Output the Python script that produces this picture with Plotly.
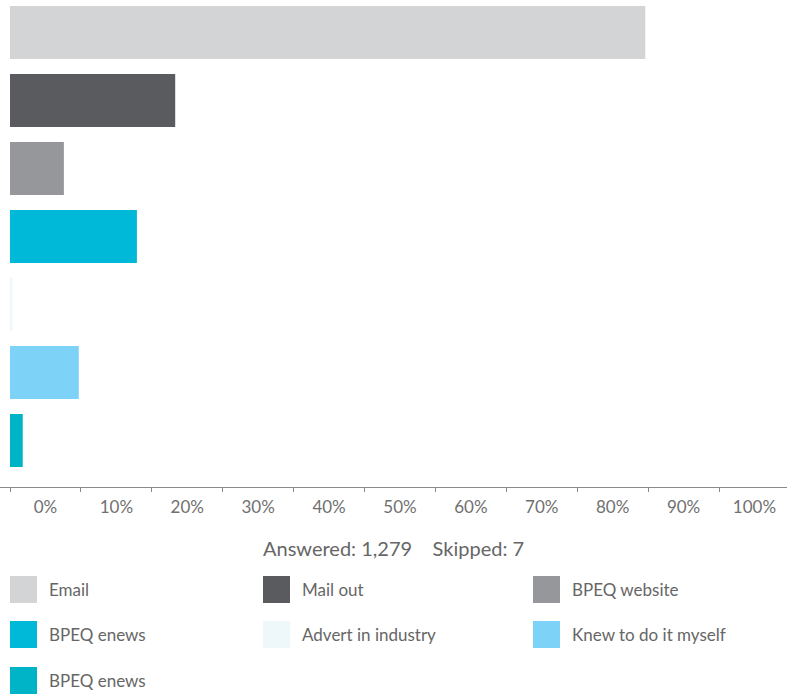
import plotly.graph_objects as go

categories = ["Email", "Mail out", "BPEQ website", "BPEQ enews",
              "Advert in industry", "Knew to do it myself", "BPEQ enews"]
values = [89.6, 23.3, 7.6, 17.9, 0.35, 9.7, 1.8]
colors = ["#d3d4d6", "#5a5b5e", "#96979b", "#00b8d8",
          "#eef7fa", "#7dd3f7", "#00b4c8"]
tick_marks = [0, 10, 20, 30, 40, 50, 60, 70, 80, 90, 100]
label_pos = [5, 15, 25, 35, 45, 55, 65, 75, 85, 95, 105]
tick_labels = ["0%", "10%", "20%", "30%", "40%", "50%", "60%", "70%", "80%", "90%", "100%"]
answered_text = "Answered: 1,279"
skipped_text = "Skipped: 7"

W, H = 787, 696
PLOT_BOTTOM = 487  # pixel y of the axis line
FONT = "Lato"
TXT = "#666666"

fig = go.Figure()
fig.add_trace(go.Bar(
    y=list(range(len(categories))),
    x=values,
    orientation="h",
    marker=dict(color=colors, line=dict(width=0)),
    width=0.78,
    hovertext=categories,
    showlegend=False,
))

def py(p):
    return (PLOT_BOTTOM - p) / PLOT_BOTTOM

def px(p):
    return p / W

shapes = []
annotations = []
# summary text
annotations.append(dict(x=px(393.5), y=py(548), xref="paper", yref="paper",
                        text=answered_text + "&nbsp;&nbsp;&nbsp; " + skipped_text,
                        showarrow=False, xanchor="center", yanchor="middle",
                        font=dict(family=FONT, size=20, color=TXT)))
# manual legend
col_x = [10, 263, 533]
row_y = [589.5, 634.5, 680.5]
for i, (name, col) in enumerate(zip(categories, colors)):
    r, c = divmod(i, 3)
    x0 = col_x[c]
    yc = row_y[r]
    shapes.append(dict(type="rect", xref="paper", yref="paper",
                       x0=px(x0), x1=px(x0 + 27), y0=py(yc + 13.5), y1=py(yc - 13.5),
                       fillcolor=col, line=dict(width=0)))
    annotations.append(dict(x=px(x0 + 37), y=py(yc), xref="paper", yref="paper",
                            text=name, showarrow=False, xanchor="left", yanchor="middle",
                            font=dict(family=FONT, size=17, color=TXT)))

fig.update_layout(
    width=W, height=H,
    margin=dict(l=0, r=0, t=0, b=H - PLOT_BOTTOM, pad=0),
    paper_bgcolor="white", plot_bgcolor="white",
    bargap=0.22,
    shapes=shapes,
    annotations=annotations,
    xaxis=dict(
        range=[-10 / 7.09, 777 / 7.09],
        showgrid=False, zeroline=False,
        showline=True, linecolor="#8a8a8a", linewidth=1,
        tickmode="array", tickvals=label_pos, ticktext=tick_labels,
        ticks="outside", ticklen=5, tickcolor="rgba(0,0,0,0)",
        tickfont=dict(family=FONT, size=17, color="#707070"),
        minor=dict(tickmode="array", tickvals=tick_marks, ticks="outside",
                   ticklen=4, tickcolor="#8a8a8a", tickwidth=1, showgrid=False),
        fixedrange=True,
    ),
    yaxis=dict(
        range=[6.684, -0.478],
        showgrid=False, zeroline=False, showline=False,
        showticklabels=False, ticks="",
        fixedrange=True,
    ),
)

fig.write_html("out.html", config={"displayModeBar": False})
